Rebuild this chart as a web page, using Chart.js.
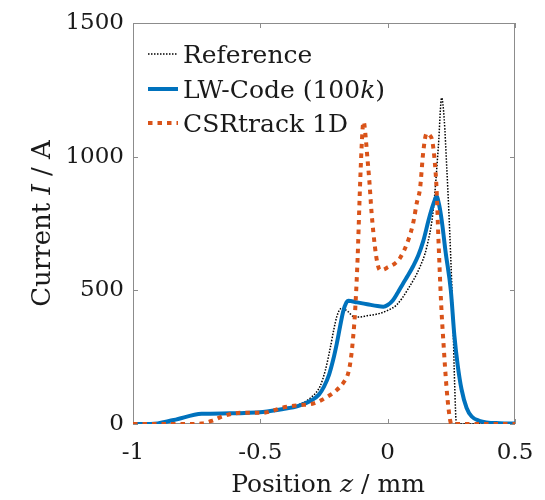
<!DOCTYPE html>
<html>
<head>
<meta charset="utf-8">
<script src="https://cdn.jsdelivr.net/npm/chart.js@4.4.0/dist/chart.umd.min.js"></script>
<style>
html, body { margin: 0; padding: 0; background: #fff; }
#wrap { width: 545px; height: 500px; }
</style>
</head>
<body>
<div id="wrap"><canvas id="currentChart" width="545" height="500"></canvas></div>
<script>
// axis ticks
const xTicks = [-1, -0.5, 0, 0.5];
const xTickLabels = ['-1', '-0.5', '0', '0.5'];
const yTicks = [0, 500, 1000, 1500];
const yTickLabels = ['0', '500', '1000', '1500'];

// Reference (black dotted)
const refZ = [-1, -0.93, -0.84, -0.73, -0.62, -0.49, -0.41, -0.35, -0.3, -0.266, -0.245, -0.227, -0.21, -0.2, -0.19, -0.181, -0.168, -0.155, -0.135, -0.115, -0.08, -0.03, 0.0, 0.035, 0.08, 0.127, 0.153, 0.179, 0.199, 0.212, 0.222, 0.232, 0.24, 0.247, 0.256, 0.263, 0.27, 0.3, 0.4, 0.5];
const refI = [0, 0, 15, 38, 42, 46, 58, 72, 100, 140, 200, 277, 360, 401, 425, 433, 428, 420, 402, 400, 405, 414, 425, 445, 505, 588, 660, 800, 1037, 1220, 1140, 960, 800, 640, 400, 150, 0, 0, 0, 0];

// LW-Code (100k) (blue)
const lwZ = [-1, -0.93, -0.84, -0.73, -0.62, -0.49, -0.41, -0.35, -0.3, -0.27, -0.25, -0.23, -0.214, -0.2, -0.187, -0.175, -0.162, -0.155, -0.12, -0.08, -0.04, -0.017, 0.0, 0.02, 0.04, 0.06, 0.08, 0.1, 0.12, 0.14, 0.16, 0.175, 0.185, 0.192, 0.202, 0.212, 0.228, 0.248, 0.262, 0.275, 0.29, 0.31, 0.33, 0.36, 0.44, 0.5];
const lwI = [0, 0, 15, 38, 40, 45, 56, 68, 88, 110, 140, 185, 240, 300, 364, 420, 455, 461, 455, 448, 441, 439, 445, 462, 492, 525, 556, 590, 630, 685, 760, 810, 838, 852, 820, 763, 640, 500, 330, 220, 130, 60, 28, 12, 3, 2];

// CSRtrack 1D (orange dotted)
const csrZ = [-1, -0.9, -0.8, -0.73, -0.69, -0.65, -0.6, -0.55, -0.49, -0.45, -0.41, -0.35, -0.29, -0.24, -0.2, -0.17, -0.155, -0.145, -0.136, -0.128, -0.118, -0.11, -0.104, -0.098, -0.094, -0.088, -0.08, -0.072, -0.063, -0.05, -0.04, -0.03, -0.015, 0.0, 0.025, 0.048, 0.081, 0.1, 0.115, 0.127, 0.14, 0.153, 0.165, 0.175, 0.185, 0.192, 0.199, 0.21, 0.22, 0.23, 0.24, 0.25, 0.3, 0.4, 0.5];
const csrI = [0, 0, 0, 2, 12, 28, 40, 42, 42, 50, 62, 70, 77, 100, 127, 160, 190, 240, 320, 420, 620, 850, 1000, 1110, 1130, 1090, 1000, 910, 788, 663, 600, 576, 578, 586, 598, 620, 688, 751, 830, 880, 1020, 1087, 1080, 1060, 980, 880, 700, 450, 290, 150, 50, 0, 0, 0, 0];

const FONT = 'DejaVu Serif';
const TEXT_COLOR = '#1a1a1a';
const AXIS_COLOR = '#8c8c8c';

function toPoints(xs, ys) {
    return xs.map((x, i) => ({ x: x, y: ys[i] }));
}

// 斜体混じりのテキストを描く
function drawRich(ctx, parts, x, y, size, align) {
    let total = 0;
    parts.forEach(p => {
        ctx.font = (p[1] ? 'italic ' : '') + size + 'px "' + FONT + '"';
        total += ctx.measureText(p[0]).width;
    });
    let cx = align === 'center' ? x - total / 2 : x;
    ctx.textAlign = 'left';
    ctx.textBaseline = 'alphabetic';
    parts.forEach(p => {
        ctx.font = (p[1] ? 'italic ' : '') + size + 'px "' + FONT + '"';
        ctx.fillText(p[0], cx, y);
        cx += ctx.measureText(p[0]).width;
    });
}

const legendItems = [
    [['Reference', false]],
    [['LW-Code (100', false], ['k', true], [')', false]],
    [['CSRtrack 1D', false]]
];

const matlabAxes = {
    id: 'matlabAxes',
    beforeDatasetsDraw(chart) {
        const { ctx, chartArea: a, scales } = chart;
        ctx.save();
        ctx.strokeStyle = AXIS_COLOR;
        ctx.lineWidth = 1;
        ctx.strokeRect(Math.round(a.left) + 0.5, Math.round(a.top) + 0.5,
            Math.round(a.right - a.left) - 1, Math.round(a.bottom - a.top) - 1);
        const tl = 5;
        ctx.beginPath();
        xTicks.forEach(v => {
            const px = Math.round(scales.x.getPixelForValue(v)) + 0.5;
            ctx.moveTo(px, a.bottom); ctx.lineTo(px, a.bottom - tl);
            ctx.moveTo(px, a.top); ctx.lineTo(px, a.top + tl);
        });
        yTicks.forEach(v => {
            const py = Math.round(scales.y.getPixelForValue(v)) + 0.5;
            ctx.moveTo(a.left, py); ctx.lineTo(a.left + tl, py);
            ctx.moveTo(a.right, py); ctx.lineTo(a.right - tl, py);
        });
        ctx.stroke();
        ctx.restore();
    },
    afterDraw(chart) {
        const { ctx, chartArea: a } = chart;
        ctx.save();
        ctx.fillStyle = TEXT_COLOR;
        // x title
        drawRich(ctx, [['Position ', false], ['z', true], [' / mm', false]], (a.left + a.right) / 2 + 4, 492, 25, 'center');
        // y title
        ctx.save();
        ctx.translate(50, (a.top + a.bottom) / 2);
        ctx.rotate(-Math.PI / 2);
        drawRich(ctx, [['Current ', false], ['I', true], [' / A', false]], 0, 0, 26, 'center');
        ctx.restore();
        // legend
        const rows = [63, 98, 132];
        chart.data.datasets.forEach((ds, i) => {
            const base = rows[i];
            const ly = base - 9;
            ctx.save();
            ctx.strokeStyle = ds.borderColor;
            ctx.lineWidth = ds.borderWidth;
            ctx.setLineDash(ds.borderDash || []);
            ctx.beginPath();
            ctx.moveTo(148, ly);
            ctx.lineTo(178, ly);
            ctx.stroke();
            ctx.restore();
            ctx.fillStyle = TEXT_COLOR;
            drawRich(ctx, legendItems[i], 183, base, 25, 'left');
        });
        ctx.restore();
    }
};

const ctx = document.getElementById('currentChart').getContext('2d');
new Chart(ctx, {
    type: 'line',
    data: {
        datasets: [
            {
                label: 'Reference',
                data: toPoints(refZ, refI),
                borderColor: '#000000',
                borderWidth: 1.5,
                borderDash: [1.5, 1.5],
                pointRadius: 0,
                cubicInterpolationMode: 'monotone',
                order: 3
            },
            {
                label: 'LW-Code (100k)',
                data: toPoints(lwZ, lwI),
                borderColor: '#0072BD',
                borderWidth: 4,
                pointRadius: 0,
                cubicInterpolationMode: 'monotone',
                order: 2
            },
            {
                label: 'CSRtrack 1D',
                data: toPoints(csrZ, csrI),
                borderColor: '#D95319',
                borderWidth: 4,
                borderDash: [4.5, 5],
                pointRadius: 0,
                cubicInterpolationMode: 'monotone',
                order: 1
            }
        ]
    },
    options: {
        responsive: false,
        animation: false,
        events: [],
        layout: { padding: { top: 23, right: 30, bottom: 0, left: 0 } },
        plugins: {
            legend: { display: false },
            tooltip: { enabled: false }
        },
        scales: {
            x: {
                type: 'linear',
                min: -1,
                max: 0.5,
                afterBuildTicks: s => { s.ticks = xTicks.map(v => ({ value: v })); },
                afterFit: s => { s.height = 76; s.paddingLeft = 0; s.paddingRight = 0; },
                grid: { display: false, drawTicks: false },
                border: { display: false },
                ticks: {
                    padding: 15,
                    maxRotation: 0,
                    color: TEXT_COLOR,
                    font: { family: FONT, size: 23 },
                    callback: v => xTickLabels[xTicks.indexOf(v)]
                }
            },
            y: {
                type: 'linear',
                min: 0,
                max: 1500,
                afterBuildTicks: s => { s.ticks = yTicks.map(v => ({ value: v })); },
                afterFit: s => { s.width = 133; s.paddingTop = 0; s.paddingBottom = 0; },
                grid: { display: false, drawTicks: false },
                border: { display: false },
                ticks: {
                    padding: 9,
                    color: TEXT_COLOR,
                    font: { family: FONT, size: 23 },
                    callback: v => yTickLabels[yTicks.indexOf(v)]
                }
            }
        }
    },
    plugins: [matlabAxes]
});
</script>
</body>
</html>
